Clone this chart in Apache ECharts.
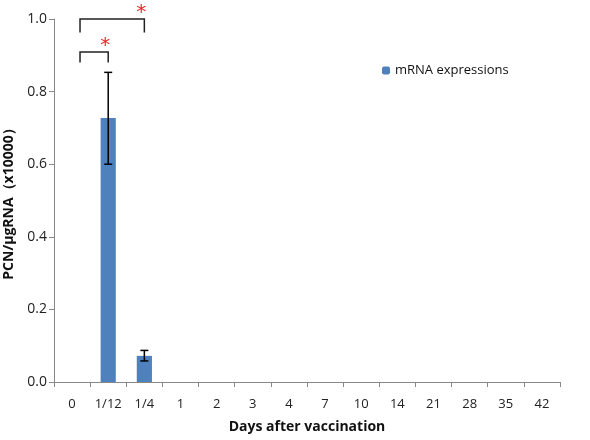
<!DOCTYPE html>
<html><head><meta charset="utf-8">
<script src="https://cdn.jsdelivr.net/npm/echarts@6/dist/echarts.min.js"></script>
<style>html,body{margin:0;padding:0;background:#fff}#c{width:590px;height:440px}</style>
</head><body><div id="c"></div>
<script>
const categories = ['0','1/12','1/4','1','2','3','4','7','10','14','21','28','35','42'];
const values = [0, 0.727, 0.072, 0, 0, 0, 0, 0, 0, 0, 0, 0, 0, 0];
const errLow = [null, 0.600, 0.058, null, null, null, null, null, null, null, null, null, null, null];
const errHigh = [null, 0.853, 0.087, null, null, null, null, null, null, null, null, null, null, null];
const yTicks = [0, 0.2, 0.4, 0.6, 0.8, 1.0];
// brackets: [from category index (offset), to category index, top value, leg bottom value]
const brackets = [[0, 1, 0.909, 0.880], [0, 2, 1.0, 0.963]];

const errData = [];
errLow.forEach((lo, i) => { if (lo !== null) errData.push([i, lo, errHigh[i]]); });

const chart = echarts.init(document.getElementById('c'));
const font = 'Open Sans';
chart.setOption({
  animation: false,
  grid: {left: 54, right: 30, top: 19, bottom: 58, outerBoundsMode: 'none', containLabel: false},
  legend: {
    data: ['mRNA expressions'], left: 377, top: 59, itemWidth: 8, itemHeight: 8, itemGap: 4,
    textStyle: {fontFamily: font, fontSize: 13, color: '#111'}
  },
  xAxis: {
    type: 'category', data: categories,
    name: 'Days after vaccination', nameLocation: 'middle', nameGap: 38,
    nameTextStyle: {fontFamily: font, fontSize: 14, fontWeight: 'bold', color: '#111'},
    axisLine: {lineStyle: {color: '#888'}},
    axisTick: {show: true, interval: 0, lineStyle: {color: '#888', width: 1}, length: 5},
    axisLabel: {fontFamily: font, fontSize: 13, color: '#222', margin: 16}
  },
  yAxis: {
    type: 'value', min: 0, max: 1.0, interval: 0.2,
    name: 'PCN/μgRNA（x10000）', nameLocation: 'middle', nameGap: 29,
    nameTextStyle: {fontFamily: font, fontSize: 14, fontWeight: 'bold', color: '#111'},
    axisLine: {show: true, lineStyle: {color: '#888'}},
    axisTick: {show: true, length: 5, lineStyle: {color: '#888'}},
    splitLine: {show: false},
    axisLabel: {fontFamily: font, fontSize: 14, color: '#222', margin: 7,
      formatter: v => { const t = yTicks.find(x => Math.abs(x - v) < 1e-9); return (t !== undefined ? t : v).toFixed(1); }}
  },
  series: [
    {
      name: 'mRNA expressions', type: 'bar', data: values, barWidth: '42%',
      itemStyle: {color: '#4f81bd'}
    },
    {
      type: 'custom', data: errData, z: 5,
      renderItem: (params, api) => {
        const x = api.value(0);
        const lo = api.coord([x, api.value(1)]);
        const hi = api.coord([x, api.value(2)]);
        const w = 4;
        const st = {stroke: '#000', lineWidth: 1.5};
        return {type: 'group', children: [
          {type: 'line', shape: {x1: lo[0], y1: lo[1], x2: hi[0], y2: hi[1]}, style: st},
          {type: 'line', shape: {x1: lo[0]-w, y1: lo[1], x2: lo[0]+w, y2: lo[1]}, style: st},
          {type: 'line', shape: {x1: hi[0]-w, y1: hi[1], x2: hi[0]+w, y2: hi[1]}, style: st}
        ]};
      }
    },
    {
      type: 'custom', data: brackets, z: 6, clip: false,
      renderItem: (params, api) => {
        const bw = api.size([1, 0])[0];
        const a = api.coord([api.value(0), api.value(2)]);
        const b = api.coord([api.value(1), api.value(2)]);
        const bot = api.coord([api.value(0), api.value(3)]);
        const x1 = a[0] + bw * 0.22, x2 = b[0];
        const st = {stroke: '#222', lineWidth: 1.5, fill: null};
        return {type: 'group', children: [
          {type: 'polyline', shape: {points: [[x1, bot[1]], [x1, a[1]], [x2, a[1]], [x2, bot[1]]]}, style: st},
          {type: 'text', style: {text: '*', x: x2 - 3, y: a[1] + 4, textAlign: 'center', textVerticalAlign: 'bottom',
            fill: '#e8262a', font: '20px "DejaVu Sans"'}}
        ]};
      }
    }
  ]
});
</script></body></html>
